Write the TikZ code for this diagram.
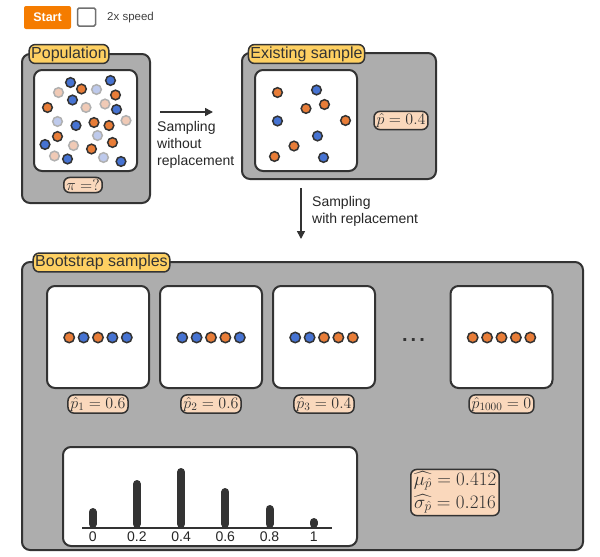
\documentclass[tikz,border=0pt]{standalone}
\usepackage{fix-cm}
\usepackage{fontspec}
\usepackage{amsmath}
\usetikzlibrary{positioning, arrows.meta}

\newfontfamily\uisans{Liberation Sans}

\definecolor{edgegray}{RGB}{51,51,51}
\definecolor{panelgray}{RGB}{173,173,173}
\definecolor{tagyellow}{RGB}{254,208,98}
\definecolor{estpeach}{RGB}{250,216,188}
\definecolor{dotorange}{RGB}{232,125,56}
\definecolor{dotblue}{RGB}{70,115,210}
\definecolor{fadeorange}{RGB}{240,202,182}
\definecolor{fadeblue}{RGB}{190,202,236}
\definecolor{fadeedge}{RGB}{176,176,176}
\definecolor{startorange}{RGB}{245,124,0}
\definecolor{boxgray}{RGB}{112,112,112}

\begin{document}
\begin{tikzpicture}[x=1pt, y=-1pt]

\tikzset{
    panel/.style={draw=edgegray, fill=panelgray, line width=2pt, rounded corners=8pt, inner sep=0pt},
    whitebox/.style={draw=edgegray, fill=white, line width=2pt, rounded corners=8pt, inner sep=0pt},
    titletag/.style={draw=edgegray, fill=tagyellow, line width=1.5pt, rounded corners=6pt,
        inner sep=2pt, text=edgegray, font=\uisans\fontsize{16}{18}\selectfont},
    esttag/.style={draw=edgegray, fill=estpeach, line width=1.5pt, rounded corners=6pt,
        inner xsep=2.5pt, inner ysep=2pt, text=edgegray, font=\fontsize{16}{20}\selectfont},
    caption/.style={align=left, inner sep=0pt, text=black!85, font=\uisans\fontsize{14}{17}\selectfont},
    flow/.style={line width=1.5pt, edgegray, -{Triangle[length=8pt, width=8pt]}},
    dot-o/.style={draw=edgegray, fill=dotorange, line width=1.5pt},
    dot-b/.style={draw=edgegray, fill=dotblue, line width=1.5pt},
    dot-fo/.style={draw=fadeedge, fill=fadeorange, line width=1.5pt},
    dot-fb/.style={draw=fadeedge, fill=fadeblue, line width=1.5pt},
    bar/.style={line width=8pt, line cap=round, edgegray}
}

\useasboundingbox (0,0) rectangle (600,557);

%====================================================
% CONTROLS
%====================================================
\node[fill=startorange, rounded corners=2pt, minimum width=47pt, minimum height=23pt, inner sep=0pt,
      text=white, font=\uisans\bfseries\fontsize{12.5}{14}\selectfont] (start) at (47.5,17.5) {Start};
\node[draw=boxgray, line width=1.5pt, rounded corners=1.5pt, minimum size=18pt, inner sep=0pt]
    (speedbox) at (86.5,17) {};
\node[anchor=west, inner sep=0pt, text=black!75, font=\uisans\fontsize{11.5}{13}\selectfont]
    (speedtext) at (107,18) {2x speed};

%====================================================
% POPULATION
%====================================================
\node[panel, minimum width=128pt, minimum height=149pt] (pop) at (86,128.5) {};
\node[whitebox, minimum width=103pt, minimum height=101pt] (popbox) at (85.5,120.5) {};
\node[titletag] (poptitle) at (69,54) {Population};
\node[esttag] (popest) at (83,185) {$\pi =?$};

% faded members
\foreach \p in {(96.5,89.5), (57.5,121.5), (97.5,135.5), (103.5,157.5)}
    \draw[dot-fb] \p circle (4.8pt);
\foreach \p in {(58.5,92.5), (86,107.5), (105,104), (126,120.5), (73.5,145.5), (54.5,156)}
    \draw[dot-fo] \p circle (4.8pt);

% members
\foreach \p in {(70.5,82.5), (110.5,80.5), (72.5,100), (116.5,109.5), (76,125.5), (45,144.5), (67.5,159), (121,161.5)}
    \draw[dot-b] \p circle (4.8pt);
\foreach \p in {(81.5,89), (115.5,95), (47.5,107.5), (94,122.5), (109,125.5), (57.5,136.5), (112.5,142.5), (91.5,149)}
    \draw[dot-o] \p circle (4.8pt);

%====================================================
% ARROW 1
%====================================================
\coordinate (w1) at (160,112);
\coordinate (w2) at (213,112);
\draw[flow] (w1) -- (w2);
\node[caption, anchor=west] (cap1) at (157,145) {Sampling\\without\\replacement};

%====================================================
% EXISTING SAMPLE
%====================================================
\node[panel, minimum width=194pt, minimum height=126pt] (exist) at (339,116) {};
\node[whitebox, minimum width=102pt, minimum height=101pt] (existbox) at (306,120.5) {};
\node[titletag] (existtitle) at (306.5,54) {Existing sample};
\node[esttag] (existest) at (401,120.5) {$\hat{p} = 0.4$};

\foreach \p in {(277.5,92.5), (306,108.5), (324.5,104.5), (345.5,120.5), (294,146), (274.5,156.5)}
    \draw[dot-o] \p circle (4.8pt);
\foreach \p in {(316.5,90), (277.5,121), (317.5,136), (323.5,157.5)}
    \draw[dot-b] \p circle (4.8pt);

%====================================================
% ARROW 2
%====================================================
\coordinate (r1) at (301,188);
\coordinate (r2) at (301,239);
\draw[flow] (r1) -- (r2);
\node[caption, anchor=west] (cap2) at (312,211.5) {Sampling\\with replacement};

%====================================================
% BOOTSTRAP SAMPLES
%====================================================
\node[panel, minimum width=561pt, minimum height=288pt] (boot) at (302.5,406) {};
\node[titletag] (boottitle) at (101.5,262.5) {Bootstrap samples};

\foreach \n/\bx/\seq/\est in {
    1/98/{o,b,o,b,b}/{\hat{p}_1 = 0.6},
    2/211/{b,b,o,o,b}/{\hat{p}_2 = 0.6},
    3/324/{b,b,o,o,o}/{\hat{p}_3 = 0.4},
    4/501.5/{o,o,o,o,o}/{\hat{p}_{1000} = 0}
}{
    \node[whitebox, minimum width=102pt, minimum height=102pt] (bs\n) at (\bx,337) {};
    \node[esttag] (est\n) at (\bx,404) {$\est$};
    \foreach \col [count=\k] in \seq
        \draw[dot-\col] (\bx+\k*14.4-43.2, 337.5) circle (5.2pt);
}

\node[anchor=base, inner sep=0pt, text=edgegray, font=\uisans\bfseries\fontsize{20}{22}\selectfont]
    (more) at (413.5,341) {.\kern3.1pt.\kern3.1pt.};

% bootstrap distribution
\node[whitebox, minimum width=294pt, minimum height=99pt] (hist) at (210,496.5) {};
\foreach \x/\lab/\top in {92.7/0/508, 136.9/0.2/480, 181.1/0.4/468, 225.3/0.6/488, 269.5/0.8/505, 313.7/1/518}{
    \draw[bar] (\x,524) -- (\x,\top+4);
    \node[inner sep=0pt, text=black!85, font=\uisans\fontsize{14}{16}\selectfont] at (\x,537) {\lab};
}
\draw[line width=2pt, edgegray] (82,528) -- (332,528);

\node[esttag, align=center, font=\fontsize{19}{23}\selectfont, inner xsep=3pt] (stats) at (455,492.5)
    {$\widehat{\mu_{\hat{p}}} = 0.412$\\$\widehat{\sigma_{\hat{p}}} = 0.216$};

\end{tikzpicture}
\end{document}
